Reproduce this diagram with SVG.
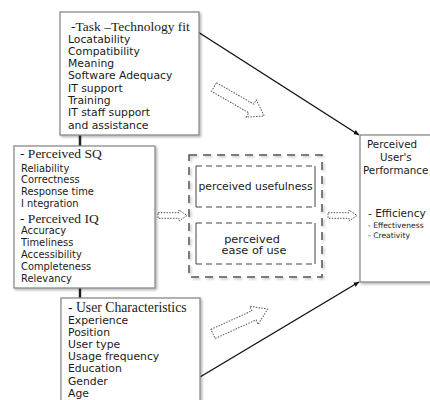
<svg xmlns="http://www.w3.org/2000/svg" width="430" height="400" viewBox="0 0 430 400">
<defs>
<filter id="sh" x="-10%" y="-10%" width="130%" height="130%">
<feDropShadow dx="1.5" dy="1.5" stdDeviation="1.2" flood-color="#000" flood-opacity="0.3"/>
</filter>
<marker id="ah" viewBox="0 0 10 10" refX="9" refY="5" markerWidth="6" markerHeight="6" orient="auto" markerUnits="userSpaceOnUse">
<path d="M0,1 L10,5 L0,9 z" fill="#111"/>
</marker>
<polygon id="harrowS" points="0,-2.8 21,-2.8 21,-5.5 29,0 21,5.5 21,2.8 0,2.8"/>
</defs>
<style>
.box{fill:#fff;stroke:#8a8a8a;stroke-width:1.3;filter:url(#sh)}
.ser{font-family:"Liberation Serif",serif;fill:#1a1a1a}
.san{font-family:"DejaVu Sans",sans-serif;fill:#1a1a1a}
.hol{fill:#fff;stroke:#555;stroke-width:1;stroke-dasharray:1.5 1.3}
.dash{fill:none;stroke:#555;stroke-width:1.5;stroke-dasharray:8 6}
.in{fill:none;stroke:#444;stroke-width:1}
.ind{fill:none;stroke:#444;stroke-width:1;stroke-dasharray:6 4}
.con{stroke:#111;stroke-width:1.4;fill:none}
</style>
<rect width="430" height="400" fill="#fff"/>

<g id="connectors">
<line x1="80" y1="135" x2="80" y2="146" stroke="#222" stroke-width="2.5"/>
<line x1="80" y1="288" x2="80" y2="298" stroke="#222" stroke-width="2.5"/>
<line class="con" x1="198" y1="32" x2="359" y2="135" marker-end="url(#ah)"/>
<line class="con" x1="200" y1="377" x2="359" y2="282" marker-end="url(#ah)"/>
<polygon class="hol" transform="translate(214,87) rotate(30)" points="0,-5 43,-5 43,-10 58,0 43,10 43,5 0,5"/>
<polygon class="hol" transform="translate(213,334) rotate(-24.5)" points="0,-5 45,-5 45,-10 60,0 45,10 45,5 0,5"/>
<use href="#harrowS" class="hol" transform="translate(158,215.5)"/>
<use href="#harrowS" class="hol" transform="translate(328,215.5)"/>
</g>

<g id="task">
<rect class="box" x="60" y="12" width="139" height="123"/>
<text class="ser" x="71" y="31" font-size="13.5">-Task –Technology fit</text>
<g class="san" font-size="10.8">
<text x="68" y="42.5">Locatability</text>
<text x="68" y="54.8">Compatibility</text>
<text x="68" y="67.1">Meaning</text>
<text x="68" y="79.4">Software Adequacy</text>
<text x="68" y="91.7">IT support</text>
<text x="68" y="104">Training</text>
<text x="68" y="116.3">IT staff support</text>
<text x="68" y="128.6">and assistance</text>
</g>
</g>

<g id="quality">
<rect class="box" x="14" y="146" width="141" height="142"/>
<text class="ser" x="20" y="158" font-size="13.5">- Perceived SQ</text>
<g class="san" font-size="9.9">
<text x="21" y="171.5">Reliability</text>
<text x="21" y="183.2">Correctness</text>
<text x="21" y="195">Response time</text>
<text x="21" y="206.7">I ntegration</text>
</g>
<text class="ser" x="20" y="222.5" font-size="13.5">- Perceived IQ</text>
<g class="san" font-size="9.9">
<text x="21" y="234.2">Accuracy</text>
<text x="21" y="246">Timeliness</text>
<text x="21" y="258">Accessibility</text>
<text x="21" y="270">Completeness</text>
<text x="21" y="281.7">Relevancy</text>
</g>
</g>

<g id="user">
<rect class="box" x="61" y="298" width="139" height="110"/>
<text class="ser" x="68" y="312" font-size="13.7">- User Characteristics</text>
<g class="san" font-size="10.8">
<text x="68" y="323.5">Experience</text>
<text x="68" y="335.7">Position</text>
<text x="68" y="347.9">User type</text>
<text x="68" y="360.1">Usage frequency</text>
<text x="68" y="372.3">Education</text>
<text x="68" y="384.5">Gender</text>
<text x="68" y="396.7">Age</text>
</g>
</g>

<g id="tam">
<rect class="dash" x="189" y="155" width="133" height="122" filter="url(#sh)"/>
</g>

<g id="usefulness">
<line class="in" x1="196" y1="166" x2="196" y2="207"/>
<line class="in" x1="315" y1="166" x2="315" y2="207"/>
<line class="ind" x1="196" y1="166" x2="315" y2="166"/>
<line class="ind" x1="196" y1="207" x2="315" y2="207"/>
<text class="san" x="255.5" y="190" font-size="10.8" text-anchor="middle">perceived usefulness</text>
</g>

<g id="ease">
<line class="in" x1="196" y1="223" x2="196" y2="264"/>
<line class="in" x1="315" y1="223" x2="315" y2="264"/>
<line class="ind" x1="196" y1="223" x2="315" y2="223"/>
<line class="ind" x1="196" y1="264" x2="315" y2="264"/>
<text class="san" x="252" y="242.5" font-size="11.3" text-anchor="middle">perceived</text>
<text class="san" x="254" y="254.3" font-size="11.3" text-anchor="middle">ease of use</text>
</g>

<g id="performance">
<rect class="box" x="360" y="135" width="90" height="147"/>
<g class="san" font-size="10.3">
<text x="367" y="148">Perceived</text>
<text x="380" y="161">User's</text>
<text x="363" y="173.5">Performance</text>
</g>
<text class="san" x="368" y="217" font-size="10.5">- Efficiency</text>
<text class="san" x="368" y="228" font-size="7.6">- Effectiveness</text>
<text class="san" x="368" y="238" font-size="7.6">- Creativity</text>
</g>
</svg>
